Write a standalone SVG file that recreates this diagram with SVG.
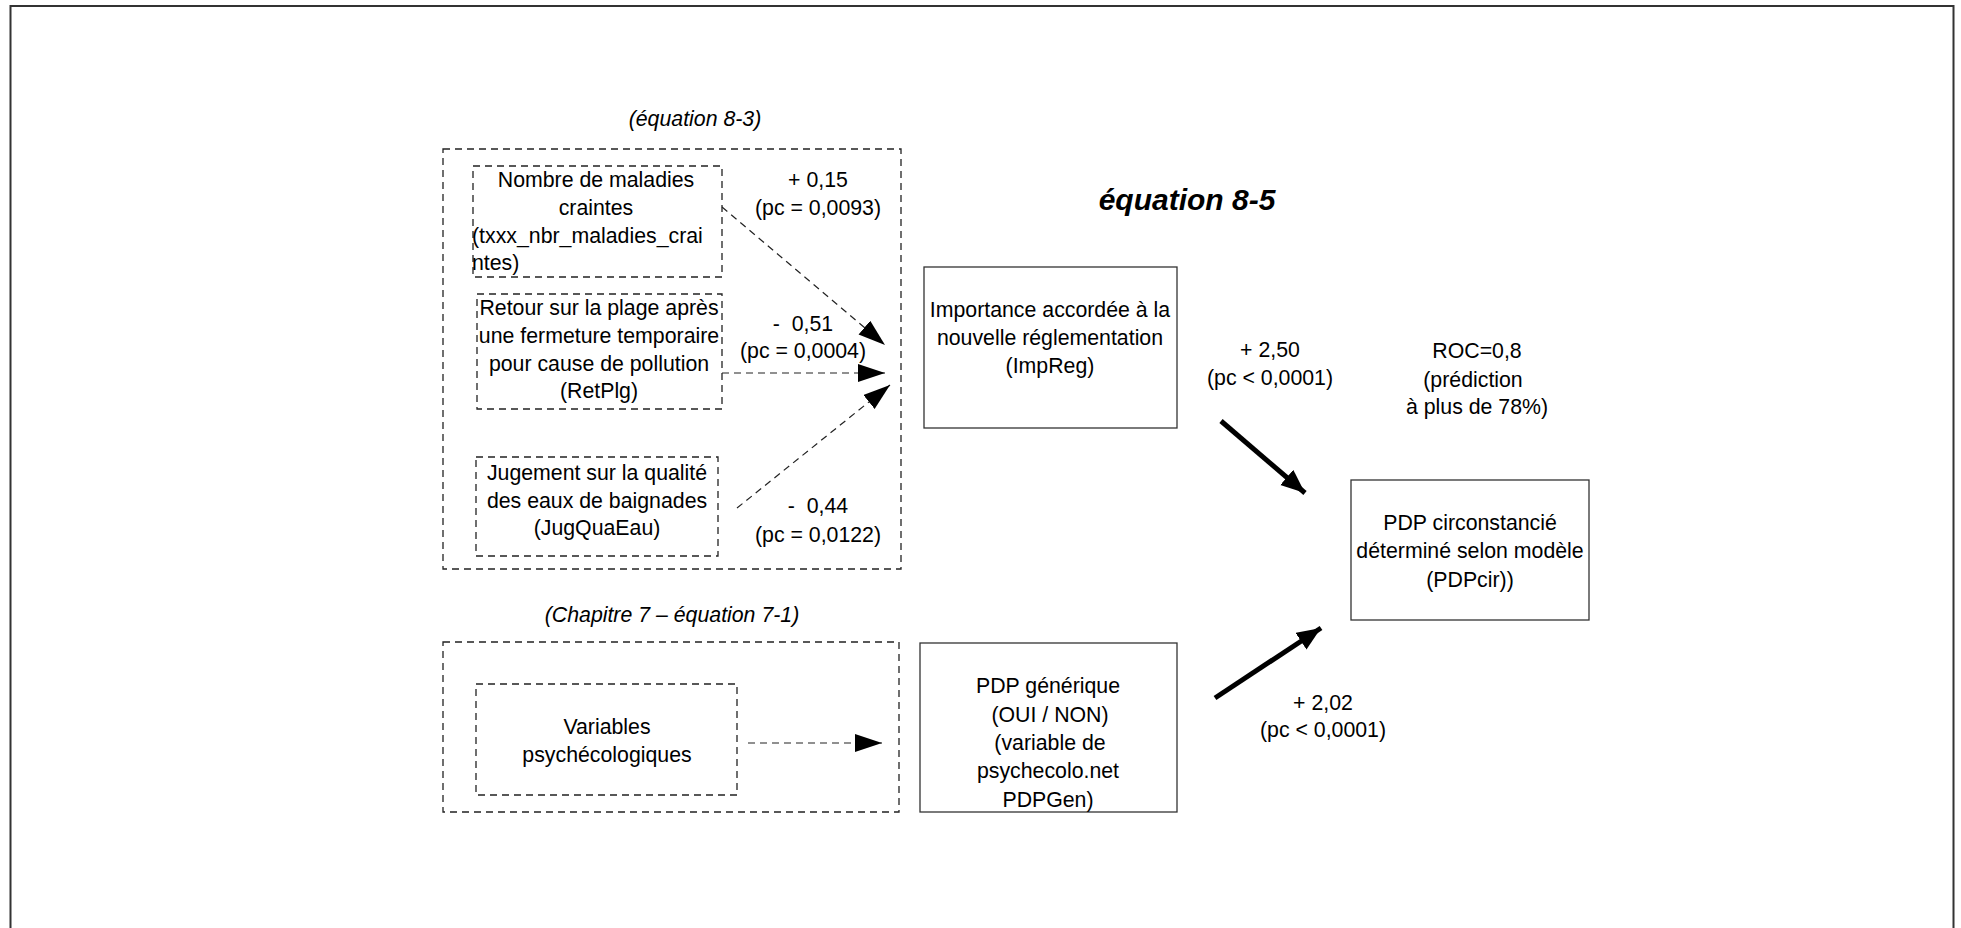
<svg xmlns="http://www.w3.org/2000/svg" width="1961" height="928" viewBox="0 0 1961 928">
<style>
text{font-family:"Liberation Sans",Arial,sans-serif;font-size:21.3px;fill:#000;text-anchor:middle}
.it{font-style:italic}
.title{font-style:italic;font-weight:bold;font-size:30px}
.st{text-anchor:start}
.pre{white-space:pre}
.dash{fill:none;stroke:#222;stroke-width:1.3;stroke-dasharray:7 5}
.solid{fill:#fff;stroke:#333;stroke-width:1.3}
.dl{fill:none;stroke:#222;stroke-width:1.2;stroke-dasharray:7 5}
.tl{fill:none;stroke:#000;stroke-width:5}
</style>
<defs>
<marker id="ah" markerUnits="userSpaceOnUse" markerWidth="28" markerHeight="20" refX="27" refY="9" orient="auto">
<path d="M0,0 L27,9 L0,18 Z" fill="#000"/>
</marker>
<marker id="ahT" markerUnits="userSpaceOnUse" markerWidth="26" markerHeight="22" refX="24" refY="10" orient="auto">
<path d="M0,0 L24,10 L0,20 Z" fill="#000"/>
</marker>
</defs>
<rect x="10.5" y="6" width="1943" height="940" fill="#fff" stroke="#333" stroke-width="2"/>

<g id="group-eq83">
<text class="it" x="695" y="126">(équation 8-3)</text>
<rect class="dash" x="443" y="149" width="458" height="420"/>
</g>
<g id="group-eq71">
<text class="it" x="672" y="622">(Chapitre 7 – équation 7-1)</text>
<rect class="dash" x="443" y="642" width="456" height="170"/>
</g>
<g id="title">
<text class="title" x="1187" y="210">équation 8-5</text>
</g>

<g id="node-maladies">
<rect class="dash" x="473" y="166" width="249" height="111"/>
<text x="596" y="187">Nombre de maladies</text>
<text x="596" y="215">craintes</text>
<text class="st" x="472" y="243">(txxx_nbr_maladies_crai</text>
<text class="st" x="472" y="270">ntes)</text>
</g>
<g id="node-retplg">
<rect class="dash" x="477" y="294" width="245" height="115"/>
<text x="599" y="315">Retour sur la plage après</text>
<text x="599" y="343">une fermeture temporaire</text>
<text x="599" y="371">pour cause de pollution</text>
<text x="599" y="398">(RetPlg)</text>
</g>
<g id="node-jugquaeau">
<rect class="dash" x="476" y="457" width="242" height="99"/>
<text x="597" y="480">Jugement sur la qualité</text>
<text x="597" y="508">des eaux de baignades</text>
<text x="597" y="535">(JugQuaEau)</text>
</g>
<g id="node-variables">
<rect class="dash" x="476" y="684" width="261" height="111"/>
<text x="607" y="734">Variables</text>
<text x="607" y="762">psychécologiques</text>
</g>
<g id="node-impreg">
<rect class="solid" x="924" y="267" width="253" height="161"/>
<text x="1050" y="317">Importance accordée à la</text>
<text x="1050" y="345">nouvelle réglementation</text>
<text x="1050" y="373">(ImpReg)</text>
</g>
<g id="node-pdpgen">
<rect class="solid" x="920" y="643" width="257" height="169"/>
<text x="1048" y="693">PDP générique</text>
<text x="1050" y="722">(OUI / NON)</text>
<text x="1050" y="750">(variable de</text>
<text x="1048" y="778">psychecolo.net</text>
<text x="1048" y="807">PDPGen)</text>
</g>
<g id="node-pdpcir">
<rect class="solid" x="1351" y="480" width="238" height="140"/>
<text x="1470" y="530">PDP circonstancié</text>
<text x="1470" y="558">déterminé selon modèle</text>
<text x="1470" y="587">(PDPcir))</text>
</g>

<g id="connectors">
<line class="dl" x1="722" y1="207" x2="885" y2="345" marker-end="url(#ah)"/>
<line class="dl" x1="722" y1="373" x2="885" y2="373" marker-end="url(#ah)"/>
<line class="dl" x1="737" y1="508" x2="890" y2="385" marker-end="url(#ah)"/>
<line class="dl" x1="748" y1="743" x2="882" y2="743" marker-end="url(#ah)"/>
<line class="tl" x1="1221" y1="421" x2="1305" y2="493" marker-end="url(#ahT)"/>
<line class="tl" x1="1215" y1="698" x2="1321" y2="628" marker-end="url(#ahT)"/>
</g>

<g id="labels">
<text x="818" y="187">+ 0,15</text>
<text x="818" y="215">(pc = 0,0093)</text>
<text class="pre" x="803" y="331">-  0,51</text>
<text x="803" y="358">(pc = 0,0004)</text>
<text class="pre" x="818" y="513">-  0,44</text>
<text x="818" y="542">(pc = 0,0122)</text>
<text x="1270" y="357">+ 2,50</text>
<text x="1270" y="385">(pc &lt; 0,0001)</text>
<text x="1477" y="358">ROC=0,8</text>
<text x="1473" y="387">(prédiction</text>
<text x="1477" y="414">à plus de 78%)</text>
<text x="1323" y="710">+ 2,02</text>
<text x="1323" y="737">(pc &lt; 0,0001)</text>
</g>
</svg>
